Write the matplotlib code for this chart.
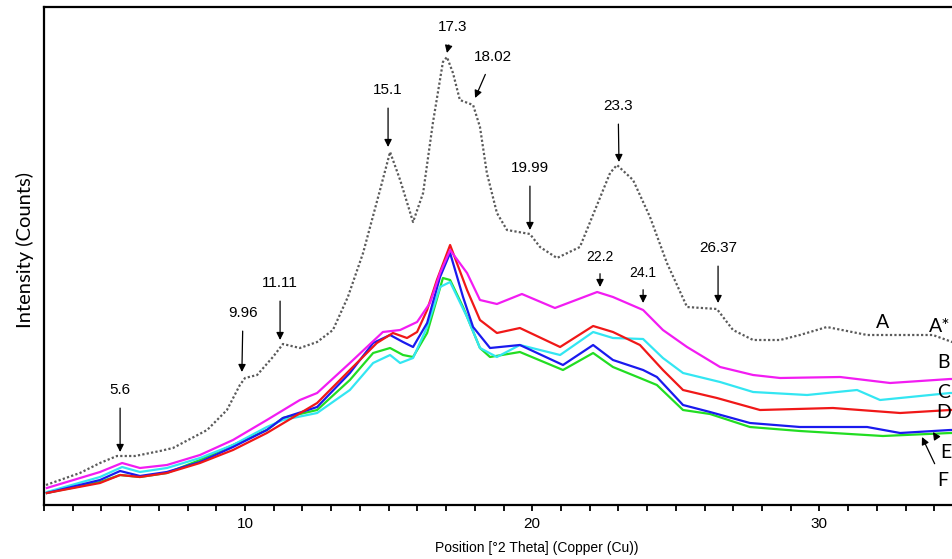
import matplotlib
matplotlib.use("Agg")
import matplotlib.pyplot as plt

# XRD patterns (intensity in arbitrary counts)
theta_A = [3.07, 3.56, 4.25, 4.95, 5.54, 6.17, 7.04, 7.49, 8.68, 9.37, 9.82, 10.00, 10.42,
           10.97, 11.32, 11.91, 12.51, 13.06, 13.58, 14.11, 14.70, 15.05, 15.40, 15.85, 16.20,
           16.54, 16.89, 17.03, 17.24, 17.48, 17.94, 18.18, 18.42, 18.77, 19.12, 19.92, 20.27,
           20.86, 21.66, 22.71, 22.95, 23.51, 24.10, 24.69, 25.39, 26.43, 26.99, 27.69, 28.63,
           29.32, 30.26, 31.66, 32.81, 33.95, 34.62, 35.5]
counts_A = [20, 25, 32, 42, 49, 49, 54, 57, 75, 95, 120, 127, 130,
            148, 161, 157, 163, 175, 208, 252, 315, 353, 325, 283, 312,
            382, 443, 448, 432, 405, 400, 378, 332, 292, 275, 271, 258,
            247, 258, 332, 340, 325, 288, 242, 198, 196, 175, 165, 165,
            170, 178, 170, 170, 170, 163, 163]

theta_B = [3.10, 4.95, 5.72, 6.34, 7.28, 8.43, 9.58, 10.76, 11.91, 12.51, 13.65, 14.80, 15.40,
           15.99, 16.44, 16.79, 17.14, 17.73, 18.18, 18.77, 19.64, 20.79, 22.26, 22.81, 23.86,
           24.55, 25.39, 26.54, 27.69, 28.63, 30.72, 32.46, 34.55, 35.5]
counts_B = [17, 33, 42, 37, 40, 50, 65, 85, 105, 112, 142, 173, 175,
            183, 202, 232, 255, 232, 205, 201, 211, 197, 213, 208, 195,
            175, 158, 138, 130, 127, 128, 122, 126, 126]

theta_C = [3.10, 4.95, 5.72, 6.34, 7.28, 8.43, 9.58, 10.76, 11.32, 12.51, 13.65, 14.46, 15.05,
           15.40, 15.85, 16.34, 16.79, 17.14, 17.73, 18.18, 18.77, 19.57, 20.97, 22.12, 22.81,
           23.86, 24.55, 25.25, 26.54, 27.69, 29.57, 31.31, 32.11, 34.55, 35.5]
counts_C = [13, 28, 38, 33, 37, 47, 60, 78, 85, 92, 115, 142, 150,
            142, 147, 178, 218, 223, 188, 157, 148, 160, 150, 173, 167,
            166, 147, 132, 123, 113, 110, 115, 105, 112, 112]

theta_D = [3.10, 4.95, 5.65, 6.34, 7.28, 8.43, 9.58, 10.76, 11.46, 12.51, 13.65, 14.59, 15.15,
           15.64, 15.99, 16.34, 16.68, 17.14, 17.73, 18.18, 18.77, 19.57, 20.97, 22.12, 22.81,
           23.75, 24.55, 25.25, 26.43, 27.93, 30.47, 32.81, 34.55, 35.5]
counts_D = [12, 22, 30, 28, 32, 42, 55, 72, 84, 102, 135, 162, 172,
            167, 173, 195, 225, 260, 215, 185, 172, 177, 158, 179, 173,
            160, 135, 115, 107, 95, 97, 92, 95, 95]

theta_E = [3.10, 4.95, 5.65, 6.34, 7.28, 8.43, 9.58, 10.76, 11.32, 12.51, 13.65, 14.46, 15.05,
           15.50, 15.85, 16.34, 16.79, 17.14, 17.59, 17.94, 18.53, 19.57, 21.07, 22.12, 22.81,
           23.86, 24.34, 25.25, 26.19, 27.58, 29.32, 31.66, 32.81, 34.55, 35.5]
counts_E = [12, 25, 34, 29, 33, 43, 58, 75, 87, 98, 132, 162, 170,
            163, 158, 182, 228, 252, 208, 178, 157, 160, 140, 160, 145,
            135, 128, 100, 93, 82, 78, 78, 72, 75, 75]

theta_F = [3.10, 4.95, 5.65, 6.34, 7.28, 8.43, 9.58, 10.76, 11.32, 12.51, 13.65, 14.46, 15.05,
           15.50, 15.85, 16.34, 16.89, 17.14, 17.59, 18.18, 18.53, 19.57, 21.07, 22.12, 22.81,
           23.75, 24.34, 25.25, 26.19, 27.58, 29.32, 32.21, 34.55, 35.5]
counts_F = [12, 23, 30, 28, 32, 45, 60, 75, 87, 95, 125, 152, 157,
            150, 148, 172, 227, 225, 198, 157, 148, 153, 135, 152, 138,
            127, 120, 95, 91, 78, 74, 69, 72, 72]

# peak labels on pattern A: text, text position, arrow tip
peak_labels = ["5.6", "9.96", "11.11", "15.1", "17.3", "18.02", "19.99", "23.3", "26.37"]
peak_text_xy = [(5.65, 115), (9.93, 192), (11.22, 222), (14.98, 415), (17.24, 478),
                (18.63, 448), (19.92, 337), (22.99, 399), (26.47, 257)]
peak_tip_xy = [(5.65, 53), (9.89, 133), (11.22, 165), (14.98, 358), (17.03, 452),
               (18.01, 407), (19.92, 275), (23.02, 343), (26.47, 202)]

small_labels = ["22.2", "24.1"]
small_text_xy = [(22.36, 248), (23.86, 232)]
small_tip_xy = [(22.36, 218), (23.86, 202)]

fig = plt.figure(figsize=(9.52, 5.59), dpi=100)
ax = fig.add_axes([44 / 952, 54 / 559, 33 * 28.72 / 952, 498 / 559])

ax.plot(theta_A, counts_A, color="#5a5a5a", lw=1.6, ls=(0, (1, 1)))
ax.plot(theta_F, counts_F, color="#22dd22", lw=1.6)
ax.plot(theta_C, counts_C, color="#33e6f2", lw=1.6)
ax.plot(theta_E, counts_E, color="#1a1aee", lw=1.6)
ax.plot(theta_D, counts_D, color="#f01818", lw=1.6)
ax.plot(theta_B, counts_B, color="#f21cf2", lw=1.6)

ax.set_xlim(3, 36)
ax.set_ylim(0, 498)

arrow = dict(arrowstyle="-|>", color="black", lw=0.9, mutation_scale=11,
             shrinkA=6, shrinkB=0)
num_font = dict(family="Liberation Sans", fontsize=11)
for lab, txy, tip in zip(peak_labels, peak_text_xy, peak_tip_xy):
    ax.annotate(lab, xy=tip, xytext=txy, ha="center", va="center",
                arrowprops=arrow, **num_font)
for lab, txy, tip in zip(small_labels, small_text_xy, small_tip_xy):
    ax.annotate(lab, xy=tip, xytext=txy, ha="center", va="center",
                arrowprops=dict(arrow, shrinkA=5), family="Liberation Sans", fontsize=10)

# sample letters at the right edge
letter_font = dict(family="Lato", fontsize=14, va="center", ha="left", clip_on=False)
ax.text(31.95, 183, "A", **letter_font)
ax.text(33.82, 178, "A*", **letter_font)
ax.text(34.1, 142, "B", **letter_font)
ax.text(34.1, 112, "C", **letter_font)
ax.text(34.05, 93, "D", **letter_font)
ax.annotate("E", xy=(33.95, 73), xytext=(34.22, 53), arrowprops=dict(arrow, shrinkA=4),
            **letter_font)
ax.annotate("F", xy=(33.57, 68), xytext=(34.09, 25), arrowprops=dict(arrow, shrinkA=4),
            **letter_font)

ax.set_xticks(range(10, 36, 10))
ax.set_xticks(range(3, 36), minor=True)
ax.tick_params(axis="x", which="both", direction="out", length=4, width=1.3,
               labelsize=11, pad=5)
ax.set_yticks([])
for lab in ax.get_xticklabels():
    lab.set_family("Liberation Sans")
for side in ["left", "bottom", "top"]:
    ax.spines[side].set_linewidth(1.6)
ax.spines["right"].set_visible(False)

fig.text(537 / 952, 1 - 548 / 559, "Position [°2 Theta] (Copper (Cu))", ha="center",
         va="center", family="Liberation Sans", fontsize=10)
fig.text(25 / 952, 1 - 250 / 559, "Intensity (Counts)", rotation=90, ha="center",
         va="center", family="Lato", fontsize=14.5)

fig.savefig("out.png", dpi=100)
